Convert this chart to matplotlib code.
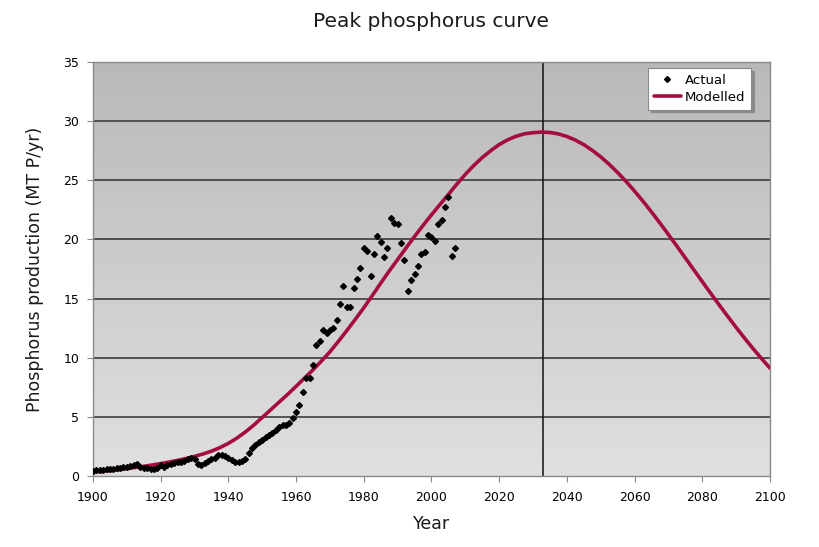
import numpy as np
import matplotlib.pyplot as plt
from matplotlib.colors import LinearSegmentedColormap

# actual production (MT P/yr)
actual_years = list(range(1900, 2008))
actual_values = [
    0.45, 0.47, 0.50, 0.52, 0.55, 0.57, 0.62, 0.68, 0.70, 0.72,
    0.75, 0.85, 0.95, 1.05, 0.75, 0.65, 0.70, 0.62, 0.58, 0.68,
    0.90, 0.75, 0.90, 1.00, 1.10, 1.15, 1.20, 1.30, 1.40, 1.55,
    1.45, 1.00, 0.90, 1.10, 1.25, 1.40, 1.55, 1.75, 1.80, 1.70,
    1.50, 1.35, 1.20, 1.20, 1.25, 1.45, 1.95, 2.35, 2.60, 2.90,
    3.05, 3.30, 3.50, 3.65, 3.90, 4.10, 4.30, 4.35, 4.45, 4.90,
    5.40, 6.00, 7.10, 8.30, 8.30, 9.40, 11.10, 11.40, 12.30, 12.10,
    12.30, 12.50, 13.20, 14.50, 16.10, 14.30, 14.30, 15.90, 16.65, 17.55,
    19.30, 19.00, 16.90, 18.80, 20.30, 19.80, 18.50, 19.30, 21.80, 21.40,
    21.30, 19.70, 18.30, 15.60, 16.60, 17.05, 17.75, 18.80, 18.90, 20.40,
    20.20, 19.90, 21.30, 21.60, 22.70, 23.60, 18.60, 19.30,
]

# modelled curve, every 2.5 years
model_years = [1900 + 2.5 * i for i in range(81)]
model_values = [
    0.32, 0.38, 0.45, 0.53, 0.62, 0.72, 0.82, 0.93, 1.05, 1.18,
    1.32, 1.48, 1.66, 1.86, 2.10, 2.40, 2.76, 3.20, 3.72, 4.30,
    4.95, 5.60, 6.25, 6.90, 7.58, 8.28, 8.98, 9.72, 10.50, 11.38,
    12.30, 13.25, 14.22, 15.25, 16.30, 17.32, 18.30, 19.28, 20.25, 21.18,
    22.08, 22.95, 23.80, 24.68, 25.50, 26.25, 26.92, 27.50, 28.02, 28.42,
    28.72, 28.93, 29.02, 29.07, 29.04, 28.92, 28.70, 28.40, 28.01, 27.53,
    26.98, 26.35, 25.65, 24.90, 24.08, 23.22, 22.32, 21.38, 20.41, 19.43,
    18.43, 17.43, 16.43, 15.44, 14.46, 13.50, 12.56, 11.65, 10.77, 9.93,
    9.12,
]

peak_year = 2033

plt.rcParams['font.family'] = ['DejaVu Sans']

fig = plt.figure(figsize=(8.2, 5.47), dpi=100)
ax = fig.add_axes([0.1134, 0.1298, 0.8256, 0.7569])

# grey gradient background, darker at the top
grad = np.linspace(0, 1, 256).reshape(-1, 1)
bg = LinearSegmentedColormap.from_list('bg', ['#b9b9b9', '#e0e0e0'])
ax.imshow(grad, extent=[0, 1, 0, 1], transform=ax.transAxes, aspect='auto',
          cmap=bg, origin='upper', zorder=0)

ax.set_xlim(1900, 2100)
ax.set_ylim(0, 35)
ax.set_xticks(range(1900, 2101, 20))
ax.set_yticks(range(0, 36, 5))

for y in range(5, 35, 5):
    ax.axhline(y, color='#3c3c3c', lw=1.2, zorder=1)
ax.axvline(peak_year, color='#111111', lw=1.1, zorder=1)

ax.plot(model_years, model_values, color='#a50d3d', lw=2.6, zorder=3,
        label='Modelled', solid_capstyle='round')
ax.plot(actual_years, actual_values, ls='none', marker='D', ms=3.0,
        color='black', zorder=4, label='Actual')

for s in ax.spines.values():
    s.set_color('#8a8a8a')
    s.set_linewidth(1.0)

ax.tick_params(axis='both', labelsize=9, colors='#8a8a8a', labelcolor='black',
               length=4, width=0.8, direction='out')
ax.tick_params(axis='x', pad=7)
ax.tick_params(axis='y', pad=6)

ax.set_title('Peak phosphorus curve', fontsize=14.5, pad=25, color='#1a1a1a')
ax.set_xlabel('Year', fontsize=12.5, labelpad=8, color='#1a1a1a')
ax.set_ylabel('Phosphorus production (MT P/yr)', fontsize=12.5, labelpad=14,
              color='#1a1a1a')

handles, labels = ax.get_legend_handles_labels()
leg = ax.legend(handles[::-1], labels[::-1], loc='upper right',
                bbox_to_anchor=(0.972, 0.986), borderaxespad=0,
                fontsize=9.5, frameon=True, fancybox=False,
                shadow={'color': '#8a8a8a', 'alpha': 1},
                handlelength=2.0, handletextpad=0.3, borderpad=0.45,
                labelspacing=0.3, edgecolor='#8a8a8a', framealpha=1)
leg.get_frame().set_linewidth(0.8)

fig.savefig('out.png', dpi=100)
